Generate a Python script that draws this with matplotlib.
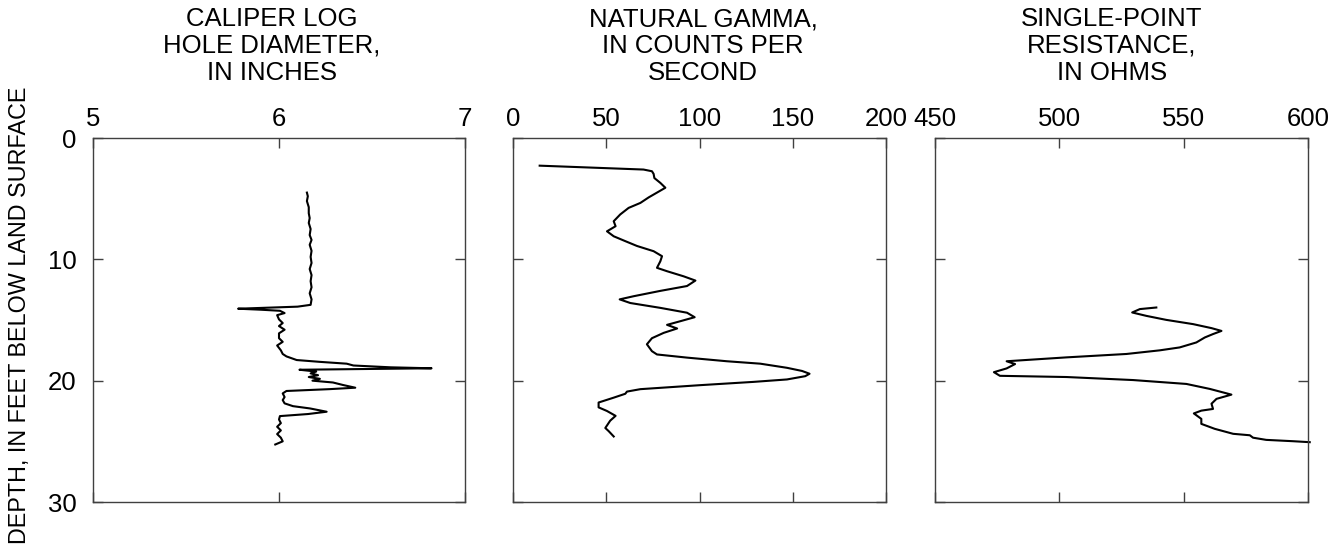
import matplotlib
matplotlib.use("Agg")
import matplotlib.pyplot as plt

plt.rcParams['font.family'] = ['Liberation Sans', 'DejaVu Sans']

# Caliper log: depth (ft) and hole diameter (in)
caliper_depth = [4.5, 4.8, 5.2, 5.7, 6.2, 6.6, 7.0, 7.5, 8.0, 8.4, 8.8, 9.3, 9.8, 10.3,
                 10.8, 11.3, 11.8, 12.3, 12.8, 13.3, 13.75, 13.9, 14.07, 14.15, 14.24,
                 14.43, 14.6, 14.95, 15.25, 15.5, 15.8, 16.1, 16.5, 16.8, 17.1, 17.5,
                 17.8, 18.0, 18.3, 18.45, 18.6, 18.75, 18.9, 18.98, 19.05, 19.1, 19.25,
                 19.4, 19.55, 19.7, 19.85, 20.0, 20.15, 20.36, 20.58, 20.7, 20.85, 21.05,
                 21.35, 21.6, 21.87, 22.1, 22.29, 22.56, 22.75, 22.92, 23.2, 23.5, 23.8,
                 24.1, 24.4, 24.7, 25.0, 25.26]
caliper_diam = [6.15, 6.155, 6.15, 6.16, 6.16, 6.165, 6.16, 6.17, 6.165, 6.175, 6.165,
                6.175, 6.17, 6.175, 6.165, 6.175, 6.17, 6.175, 6.165, 6.175, 6.17, 6.10,
                5.78, 5.90, 6.005, 6.03, 5.99, 6.00, 6.02, 6.00, 6.03, 6.00, 6.00, 6.02,
                5.99, 6.01, 6.02, 6.04, 6.095, 6.22, 6.364, 6.40, 6.60, 6.82, 6.40, 6.11,
                6.20, 6.17, 6.21, 6.16, 6.22, 6.18, 6.29, 6.345, 6.41, 6.27, 6.04, 6.02,
                6.03, 6.02, 6.03, 6.075, 6.167, 6.256, 6.156, 6.005, 6.00, 6.01, 5.99,
                6.01, 5.99, 6.01, 6.02, 5.98]

# Natural gamma: depth (ft) and counts per second
gamma_depth = [2.28, 2.6, 2.74, 2.96, 3.3, 3.7, 4.1, 4.5, 4.9, 5.35, 5.76, 6.3, 6.86,
               7.27, 7.69, 8.1, 8.5, 8.9, 9.33, 9.74, 10.16, 10.7, 10.98, 11.4, 11.75,
               12.2, 12.6, 13.04, 13.3, 13.6, 14.0, 14.4, 14.77, 15.1, 15.4, 15.7, 16.06,
               16.5, 17.0, 17.57, 17.84, 18.1, 18.4, 18.6, 18.94, 19.2, 19.43, 19.63,
               19.9, 20.1, 20.37, 20.7, 20.9, 21.08, 21.4, 21.8, 22.2, 22.5, 22.9, 23.3,
               23.9, 24.16, 24.6]
gamma_cps = [14.3, 70, 74.5, 75.4, 75.8, 79, 81.7, 77.2, 72.7, 68.3, 62, 57.5, 54, 55,
             50.4, 54, 60.2, 66.5, 75.4, 79.9, 79, 77.2, 82.6, 91.5, 97.8, 93.3, 79,
             64.7, 57.2, 62.9, 79, 93.3, 97.4, 89.7, 82.6, 88, 80.8, 74.5, 71.8, 74.5,
             77.2, 93.3, 114.7, 132.6, 146.9, 155, 159, 156.7, 146.9, 129, 100.4, 68.3,
             61.1, 60.2, 54, 45.9, 45.9, 50.4, 55, 52.1, 49.5, 51.3, 54]

# Single-point resistance: depth (ft) and ohms
res_depth = [13.97, 14.1, 14.38, 14.66, 14.99, 15.34, 15.67, 15.9, 16.16, 16.44, 16.85,
             17.26, 17.5, 17.8, 18.08, 18.4, 18.63, 18.99, 19.3, 19.6, 19.7, 19.95,
             20.27, 20.68, 21.15, 21.5, 21.9, 22.33, 22.47, 22.7, 23.15, 23.56, 23.97,
             24.38, 24.5, 24.7, 24.88, 24.99, 25.07]
res_ohms = [539, 532.4, 529.3, 535, 543, 553.8, 561.2, 565.2, 561.8, 558.5, 555.1, 548.4,
            540.4, 527, 502.9, 478.8, 482.2, 478.8, 473.7, 476.1, 502.9, 529.7, 551.1,
            560.5, 569.2, 563.2, 561.2, 561.8, 557.1, 554.1, 557.1, 557.1, 562.5, 569.9,
            576.6, 577.9, 583.2, 594, 600.7]

titles = ["CALIPER LOG\nHOLE DIAMETER,\nIN INCHES",
          "NATURAL GAMMA,\nIN COUNTS PER\nSECOND",
          "SINGLE-POINT\nRESISTANCE,\nIN OHMS"]
xlims = [(5, 7), (0, 200), (450, 600)]
xticks = [[5, 6, 7], [0, 50, 100, 150, 200], [450, 500, 550, 600]]
depth_ticks = [0, 10, 20, 30]

W, H = 1341, 557
fig = plt.figure(figsize=(W / 100, H / 100), dpi=100)

# panel boxes in pixels: left, right
boxes = [(93, 465), (513, 886), (935, 1308)]
top, bottom = 138, 502
title_x = [272, 703, 1112]
fs = 18.5

series = [(caliper_diam, caliper_depth), (gamma_cps, gamma_depth), (res_ohms, res_depth)]

for i, ((l, r), (xv, yv)) in enumerate(zip(boxes, series)):
    ax = fig.add_axes([l / W, 1 - bottom / H, (r - l) / W, (bottom - top) / H])
    ax.plot(xv, yv, color="black", lw=1.5, clip_on=False)
    ax.set_xlim(*xlims[i])
    ax.set_ylim(30, 0)
    ax.set_xticks(xticks[i])
    ax.set_yticks(depth_ticks)
    ax.xaxis.tick_top()
    ax.tick_params(axis="x", which="both", direction="in", top=True, bottom=True,
                   labeltop=True, labelbottom=False, length=7, width=1,
                   color="#404040", labelsize=fs, pad=5)
    ax.tick_params(axis="y", direction="in", left=True, right=True, length=7,
                   width=1, color="#404040", labelsize=fs, pad=12,
                   labelleft=(i == 0))
    for sp in ax.spines.values():
        sp.set_color("#404040")
        sp.set_linewidth(1.0)
    fig.text(title_x[i] / W, 1 - 7 / H, titles[i], ha="center", va="top",
             fontsize=fs, linespacing=1.15, multialignment="center")

fig.text(20 / W, 1 - 315 / H, "DEPTH, IN FEET BELOW LAND SURFACE", rotation=90,
         ha="center", va="center", fontsize=16.8)

fig.savefig("out.png", dpi=100)
